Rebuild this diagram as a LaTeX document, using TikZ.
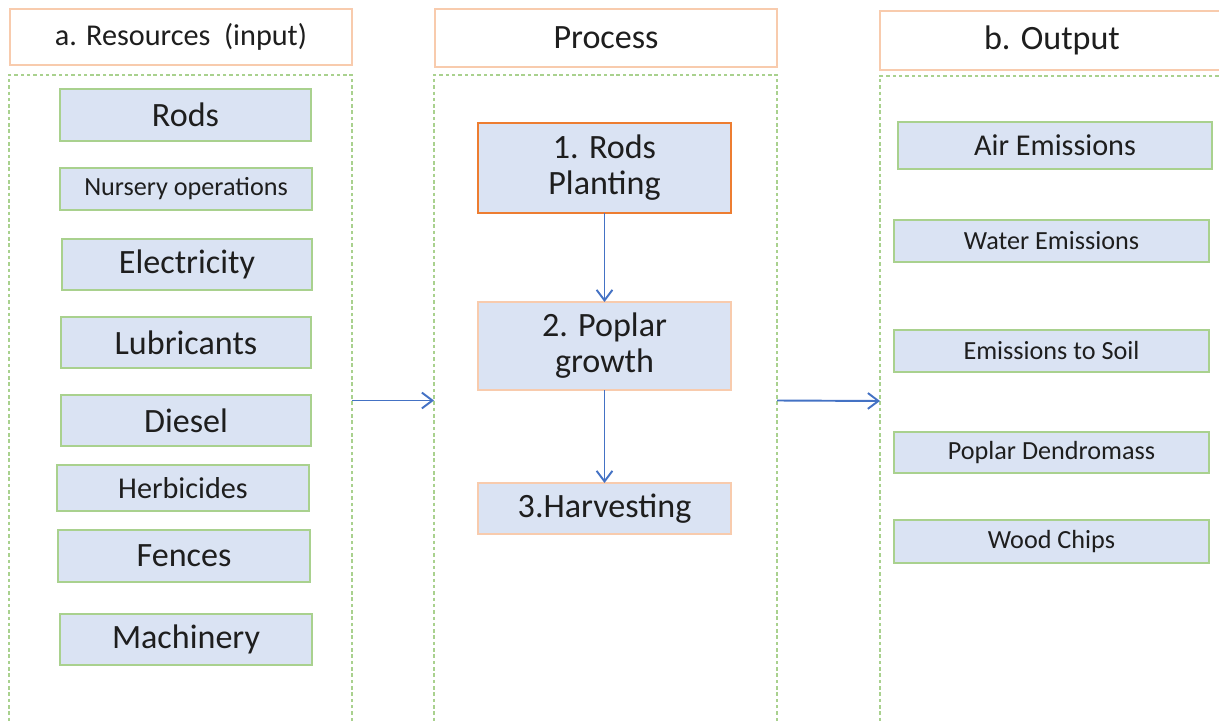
\documentclass[tikz,border=0pt]{standalone}
\usepackage{fontspec}
\setmainfont{Carlito}
\usetikzlibrary{arrows.meta}
\definecolor{boxfill}{HTML}{DAE3F3}
\definecolor{greenline}{HTML}{A9D18E}
\definecolor{orangelight}{HTML}{F8CBAD}
\definecolor{orangedark}{HTML}{ED7D31}
\definecolor{flowblue}{HTML}{4472C4}
\definecolor{ink}{HTML}{1E1E1E}
% box from corner (x1,y1) to corner (x2,y2), pixel units
\newcommand{\pbox}[7]{%
  \pgfmathsetmacro{\bw}{(#5-#3)*0.02}%
  \pgfmathsetmacro{\bh}{(#6-#4)*0.02}%
  \node[#2, minimum width=\bw cm, minimum height=\bh cm] (#1) at ({(#3+#5)/2},{(#4+#6)/2}) {#7};}
\tikzset{
  base/.style={rectangle, inner sep=0pt, outer sep=0pt, align=center, text=ink},
  header/.style={base, draw=orangelight, line width=1pt, fill=white},
  column/.style={base, draw=greenline, line width=0.8pt, dash pattern=on 2pt off 1.6pt},
  item/.style={base, draw=greenline, line width=1.1pt, fill=boxfill},
  stepfirst/.style={base, draw=orangedark, line width=1.1pt, fill=boxfill},
  stepnext/.style={base, draw=orangelight, line width=1.1pt, fill=boxfill},
  big/.style={font=\fontsize{19.4}{20.4}\selectfont},
  mid/.style={font=\fontsize{17.2}{18}\selectfont},
  small/.style={font=\fontsize{14.9}{16}\selectfont},
  flow/.style={draw=flowblue, line width=1.1pt, -{Straight Barb[length=6pt, width=9pt]}}
}
\begin{document}
\begin{tikzpicture}[x=0.02cm, y=-0.02cm]
\useasboundingbox (0,0) rectangle (1219,722);

% column headers
\pbox{hIn}{header, mid}{10}{9}{352}{65}{a. Resources\ \ (input)}
\pbox{hProc}{header, big}{435}{9}{777}{67}{Process}
\pbox{hOut}{header, big}{880}{11}{1224}{70}{b. Output}

% dashed column frames
\pbox{inCol}{column}{9}{75}{352}{726}{}
\pbox{procCol}{column}{434}{75}{777}{726}{}
\pbox{outCol}{column}{880}{76}{1224}{726}{}

% resources
\pbox{rods}{item, big}{60}{89}{311}{141}{Rods}
\pbox{nursery}{item, small}{60}{168}{312}{210}{Nursery operations}
\pbox{elec}{item, big}{62}{239}{312}{290}{Electricity}
\pbox{lubr}{item, big}{61}{317}{311}{368}{Lubricants}
\pbox{diesel}{item, big}{61}{395}{311}{446}{Diesel}
\pbox{herb}{item, mid}{57}{465}{309}{511}{Herbicides}
\pbox{fences}{item, big}{58}{530}{310}{582}{Fences}
\pbox{mach}{item, big}{60}{614}{312}{665}{Machinery}

% process steps
\pbox{p1}{stepfirst, big}{478}{123}{731}{213}{1. Rods\\Planting}
\pbox{p2}{stepnext, big}{478}{302}{731}{390}{2. Poplar\\growth}
\pbox{p3}{stepnext, big}{478}{483}{731}{534}{3.Harvesting}

% outputs
\pbox{air}{item, mid}{898}{122}{1212}{169}{Air Emissions}
\pbox{water}{item, small}{894}{220}{1209}{262}{Water Emissions}
\pbox{soil}{item, small}{894}{330}{1209}{372}{Emissions to Soil}
\pbox{dendro}{item, small}{894}{432}{1209}{473}{Poplar Dendromass}
\pbox{chips}{item, small}{894}{520}{1209}{563}{Wood Chips}

% flow connectors
\draw[flow] (p1) -- (p2);
\draw[flow] (p2) -- (p3);
\draw[flow] (inCol.east) -- (procCol.west);
\draw[flow] (procCol.east) -- (outCol.west);
\end{tikzpicture}
\end{document}
